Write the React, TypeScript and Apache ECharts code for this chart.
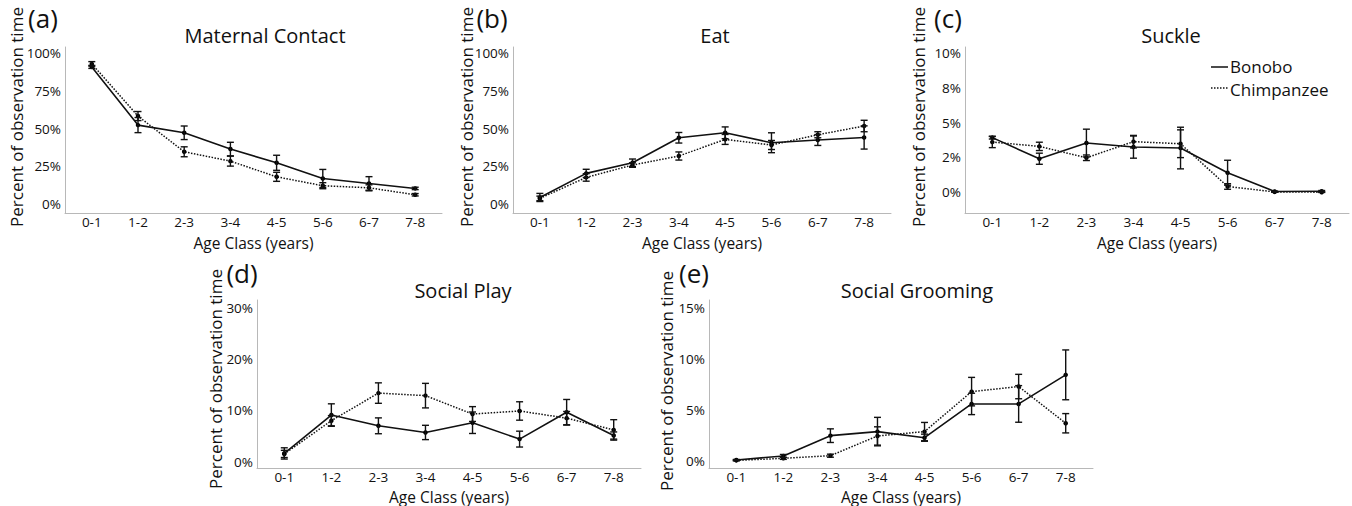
import React, { useEffect, useRef } from "react";
import * as echarts from "echarts";

const categories = ["0-1", "1-2", "2-3", "3-4", "4-5", "5-6", "6-7", "7-8"];

const maternalBonobo = [91, 52.4, 47.3, 36.5, 27.4, 17, 13.7, 10.4];
const maternalBonoboErr = [1, 5, 4.5, 4.5, 5, 6, 4.5, 0.8];
const maternalChimp = [93, 58.4, 34.7, 28.5, 18.1, 12.2, 10.8, 6.2];
const maternalChimpErr = [1.5, 3, 3.3, 3.3, 3, 2, 2, 0.8];

const eatBonobo = [4.4, 20.4, 27.4, 44, 47.3, 40.7, 42.5, 44.2];
const eatBonoboErr = [2.7, 2.7, 2.5, 3.5, 3.9, 6.6, 3.6, 7.7];
const eatChimp = [3.8, 17.7, 25.9, 31.9, 42.9, 39.2, 46, 51.8];
const eatChimpErr = [1.5, 2.5, 1.5, 2.7, 3.3, 3, 2, 3.8];

const suckleBonobo = [3.93, 2.41, 3.54, 3.25, 3.18, 1.4, 0.05, 0.07];
const suckleBonoboErr = [0.1, 0.4, 1.0, 0.8, 1.5, 0.9, 0.03, 0.05];
const suckleChimp = [3.61, 3.3, 2.48, 3.64, 3.49, 0.41, 0.02, 0.0];
const suckleChimpErr = [0.4, 0.3, 0.2, 0.45, 1.0, 0.2, 0.02, 0.02];

const playBonobo = [1.6, 9.1, 7.0, 5.7, 7.6, 4.4, 9.65, 5.1];
const playBonoboErr = [1.1, 2.2, 1.55, 1.4, 2.1, 1.55, 2.5, 0.7];
const playChimp = [1.5, 8.0, 13.4, 12.9, 9.3, 9.9, 8.5, 6.2];
const playChimpErr = [0.7, 1.0, 2.0, 2.4, 1.45, 1.8, 1.3, 2.0];

const groomBonobo = [0.07, 0.46, 2.46, 2.86, 2.26, 5.58, 5.58, 8.44];
const groomBonoboErr = [0.05, 0.15, 0.67, 1.4, 0.35, 1.05, 1.8, 2.45];
const groomChimp = [0.03, 0.23, 0.49, 2.43, 2.86, 6.79, 7.29, 3.68];
const groomChimpErr = [0.05, 0.1, 0.15, 0.9, 0.9, 1.4, 1.2, 0.95];

const ticksHundred = [0, 25, 50, 75, 100];
const ticksHundredLabels = ["0%", "25%", "50%", "75%", "100%"];
const ticksSuckle = [0, 2.5, 5, 7.5, 10];
const ticksSuckleLabels = ["0%", "2%", "5%", "8%", "10%"];
const ticksPlay = [0, 10, 20, 30];
const ticksPlayLabels = ["0%", "10%", "20%", "30%"];
const ticksGroom = [0, 5, 10, 15];
const ticksGroomLabels = ["0%", "5%", "10%", "15%"];

const panelLabels = ["(a)", "(b)", "(c)", "(d)", "(e)"];
const titles = ["Maternal Contact", "Eat", "Suckle", "Social Play", "Social Grooming"];
const seriesNames = ["Bonobo", "Chimpanzee"];
const yName = "Percent of observation time";
const xName = "Age Class (years)";

const FONT = "'Open Sans', 'Noto Sans', sans-serif";

const panels = [
  {
    grid: { left: 65, top: 47, width: 377, height: 166 },
    yMin: -5.9, yMax: 104.2, ticks: ticksHundred, tickLabels: ticksHundredLabels,
    b: maternalBonobo, be: maternalBonoboErr, c: maternalChimp, ce: maternalChimpErr,
    label: [43, 18], title: [265, 35], yn: [16.5, 117], xn: 243,
  },
  {
    grid: { left: 513, top: 47, width: 378, height: 166 },
    yMin: -5.9, yMax: 104.2, ticks: ticksHundred, tickLabels: ticksHundredLabels,
    b: eatBonobo, be: eatBonoboErr, c: eatChimp, ce: eatChimpErr,
    label: [492, 18], title: [715, 35], yn: [466, 117], xn: 243,
  },
  {
    grid: { left: 965, top: 47, width: 384, height: 166 },
    yMin: -1.5, yMax: 10.46, ticks: ticksSuckle, tickLabels: ticksSuckleLabels,
    b: suckleBonobo, be: suckleBonoboErr, c: suckleChimp, ce: suckleChimpErr,
    label: [948, 18], title: [1171, 35], yn: [918.5, 117], xn: 243,
  },
  {
    grid: { left: 257, top: 300, width: 384, height: 168 },
    yMin: -1.25, yMax: 31.6, ticks: ticksPlay, tickLabels: ticksPlayLabels,
    b: playBonobo, be: playBonoboErr, c: playChimp, ce: playChimpErr,
    label: [242, 273], title: [463, 290], yn: [215, 379], xn: 496.5,
  },
  {
    grid: { left: 709, top: 300, width: 384, height: 168 },
    yMin: -0.72, yMax: 15.8, ticks: ticksGroom, tickLabels: ticksGroomLabels,
    b: groomBonobo, be: groomBonoboErr, c: groomChimp, ce: groomChimpErr,
    label: [694, 273], title: [917, 290], yn: [666, 381], xn: 496.5,
  },
];

function errorSeries(vals: number[], errs: number[], idx: number, name: string) {
  return {
    type: "custom",
    name,
    xAxisIndex: idx,
    yAxisIndex: idx,
    silent: true,
    z: 5,
    data: vals.map((v, i) => [i, v - errs[i], v + errs[i]]),
    encode: { x: 0, y: [1, 2] },
    renderItem: (params: any, api: any) => {
      const x = api.value(0);
      const lo = api.coord([x, api.value(1)]);
      const hi = api.coord([x, api.value(2)]);
      const hw = 3.5;
      const st = { stroke: "#111", lineWidth: 1.4, fill: "none" };
      return {
        type: "group",
        children: [
          { type: "line", shape: { x1: lo[0], y1: lo[1], x2: hi[0], y2: hi[1] }, style: st },
          { type: "line", shape: { x1: lo[0] - hw, y1: lo[1], x2: lo[0] + hw, y2: lo[1] }, style: st },
          { type: "line", shape: { x1: hi[0] - hw, y1: hi[1], x2: hi[0] + hw, y2: hi[1] }, style: st },
        ],
      };
    },
  };
}

export default function App() {
  const ref = useRef<HTMLDivElement>(null);

  useEffect(() => {
    if (!ref.current) return;
    const chart = echarts.init(ref.current, null, { renderer: "svg" });

    const grids: any[] = [];
    const xAxes: any[] = [];
    const yAxes: any[] = [];
    const series: any[] = [];
    const graphics: any[] = [];

    panels.forEach((p, idx) => {
      grids.push({ ...p.grid, containLabel: false });
      xAxes.push({
        type: "value",
        gridIndex: idx,
        min: -0.58,
        max: 7.58,
        axisLine: { show: true, onZero: false, lineStyle: { color: "#b8b8b8", width: 1 } },
        axisTick: { show: false },
        splitLine: { show: false },
        axisLabel: {
          customValues: categories.map((_, i) => i),
          formatter: (v: number) => categories[Math.round(v)] ?? "",
          fontFamily: FONT,
          fontSize: 13.5,
          color: "#111",
          margin: 2,
        },
      });
      yAxes.push({
        type: "value",
        gridIndex: idx,
        min: p.yMin,
        max: p.yMax,
        axisLine: { show: true, onZero: false, lineStyle: { color: "#b8b8b8", width: 1 } },
        axisTick: { show: false },
        splitLine: { show: false },
        axisLabel: {
          customValues: p.ticks,
          formatter: (v: number) => {
            const k = p.ticks.findIndex((t) => Math.abs(t - v) < 1e-6);
            return k >= 0 ? p.tickLabels[k] : "";
          },
          fontFamily: FONT,
          fontSize: 13.5,
          color: "#111",
          margin: 4,
        },
      });

      series.push({
        type: "line",
        name: seriesNames[0],
        xAxisIndex: idx,
        yAxisIndex: idx,
        data: p.b.map((v, i) => [i, v]),
        symbol: "circle",
        symbolSize: 4.5,
        itemStyle: { color: "#000" },
        lineStyle: { color: "#111", width: 1.6, type: "solid" },
        z: 4,
      });
      series.push({
        type: "line",
        name: seriesNames[1],
        xAxisIndex: idx,
        yAxisIndex: idx,
        data: p.c.map((v, i) => [i, v]),
        symbol: "circle",
        symbolSize: 4.5,
        itemStyle: { color: "#000" },
        lineStyle: { color: "#111", width: 1.5, type: [1.5, 1.5] },
        z: 3,
      });
      series.push(errorSeries(p.b, p.be, idx, seriesNames[0] + " error"));
      series.push(errorSeries(p.c, p.ce, idx, seriesNames[1] + " error"));

      graphics.push({
        type: "text",
        x: p.label[0],
        y: p.label[1],
        style: {
          text: panelLabels[idx],
          font: `26px ${FONT}`,
          fill: "#111",
          align: "center",
          verticalAlign: "middle",
        },
      });
      graphics.push({
        type: "text",
        x: p.title[0],
        y: p.title[1],
        style: {
          text: titles[idx],
          font: `20px ${FONT}`,
          fill: "#111",
          align: "center",
          verticalAlign: "middle",
        },
      });
      graphics.push({
        type: "text",
        x: p.yn[0],
        y: p.yn[1],
        rotation: Math.PI / 2,
        style: {
          text: yName,
          font: `17px ${FONT}`,
          fill: "#111",
          align: "center",
          verticalAlign: "middle",
        },
      });
      graphics.push({
        type: "text",
        x: p.grid.left + p.grid.width / 2,
        y: p.xn,
        style: {
          text: xName,
          font: `15.5px ${FONT}`,
          fill: "#111",
          align: "center",
          verticalAlign: "middle",
        },
      });
    });

    // legend (in panel c)
    graphics.push({
      type: "line",
      shape: { x1: 1211, y1: 67, x2: 1228, y2: 67 },
      style: { stroke: "#111", lineWidth: 1.5 },
    });
    graphics.push({
      type: "text",
      x: 1230,
      y: 66.5,
      style: {
        text: seriesNames[0], font: `17px ${FONT}`, fill: "#111",
        align: "left", verticalAlign: "middle",
      },
    });
    graphics.push({
      type: "line",
      shape: { x1: 1211, y1: 88, x2: 1228, y2: 88 },
      style: { stroke: "#111", lineWidth: 1.3, lineDash: [1.5, 1.5] },
    });
    graphics.push({
      type: "text",
      x: 1230,
      y: 89,
      style: {
        text: seriesNames[1], font: `17px ${FONT}`, fill: "#111",
        align: "left", verticalAlign: "middle",
      },
    });

    chart.setOption({
      animation: false,
      backgroundColor: "#ffffff",
      textStyle: { fontFamily: FONT },
      grid: grids,
      xAxis: xAxes,
      yAxis: yAxes,
      series,
      graphic: graphics,
    });

    return () => chart.dispose();
  }, []);

  return (
    <div
      ref={ref}
      style={{ position: "fixed", left: 0, top: 0, width: 1352, height: 506, background: "#fff" }}
    />
  );
}
